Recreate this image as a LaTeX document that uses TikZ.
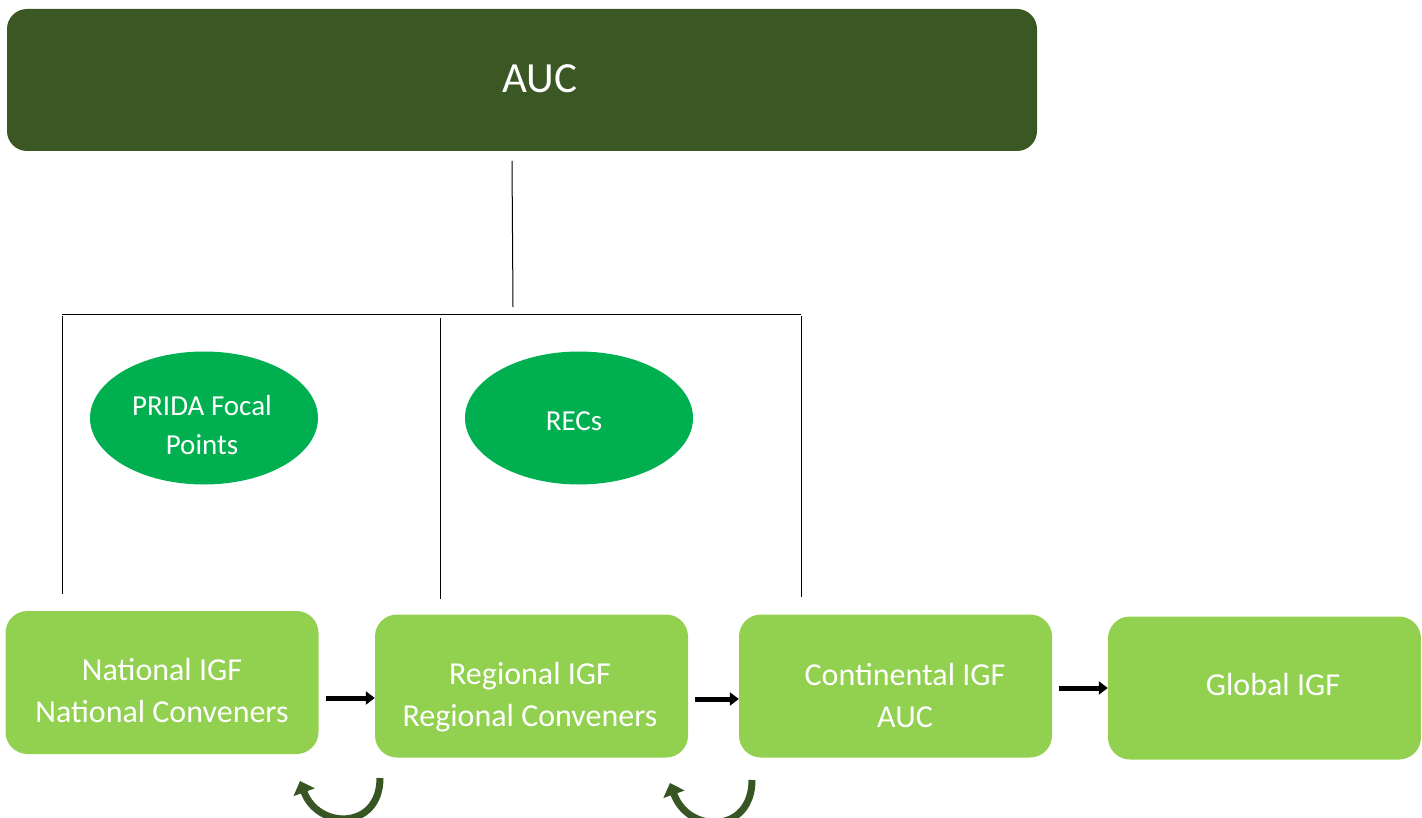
\documentclass[tikz,border=0pt]{standalone}
\usepackage{fontspec}
\setmainfont{Carlito}
\usetikzlibrary{shapes.geometric,arrows.meta}
\definecolor{dkgreen}{HTML}{3B5724}
\definecolor{ellgreen}{HTML}{00B050}
\definecolor{boxgreen}{HTML}{92D050}
\definecolor{arrgreen}{HTML}{375623}
\tikzset{
  topbox/.style={draw=none, fill=dkgreen, rounded corners=20pt, minimum width=1030pt, minimum height=142pt, text=white, font=\fontsize{43}{50}\selectfont, inner sep=0pt},
  ellnode/.style={ellipse, draw=none, fill=ellgreen, minimum width=228pt, minimum height=133pt, text=white, align=center, font=\fontsize{29}{39}\selectfont, inner sep=0pt},
  igfbox/.style={draw=none, fill=boxgreen, rounded corners=22pt, minimum width=313pt, minimum height=143pt, inner sep=0pt},
  igftext/.style={text=white, align=center, font=\fontsize{32}{42}\selectfont, inner sep=0pt},
  conn/.style={line width=1pt, black},
  flow/.style={line width=5pt, black, -{Triangle[length=9pt,width=13pt]}},
  loop/.style={line width=7pt, arrgreen, -{Triangle[length=12pt,width=22pt]}},
}
\begin{document}
\begin{tikzpicture}[x=1pt,y=-1pt]
\useasboundingbox (0,0) rectangle (1422,818);
\clip (0,0) rectangle (1422,818);
% top box
\node[topbox] (auc) at (522,80) {};
\node[text=white, font=\fontsize{43}{50}\selectfont, inner sep=0pt] (auct) at (540,79) {AUC};
% connector lines
\coordinate (a1) at (512,161);
\coordinate (a2) at (513,307);
\draw[conn] (a1) -- (a2);
\coordinate (bl) at (62,315);
\coordinate (br) at (801,315);
\draw[conn] (bl) -- (br);
\coordinate (l1) at (62,316);
\coordinate (l1e) at (62,594);
\coordinate (l2) at (440,318);
\coordinate (l2e) at (440,599);
\coordinate (l3) at (801,316);
\coordinate (l3e) at (801,597);
\draw[conn] (l1) -- (l1e);
\draw[conn] (l2) -- (l2e);
\draw[conn] (l3) -- (l3e);
% ellipses
\node[ellnode] (prida) at (204,418) {};
\node[text=white, align=center, font=\fontsize{29}{39}\selectfont, inner sep=0pt] (pridat) at (202,425) {PRIDA Focal\\Points};
\node[ellnode] (recs) at (579,418) {};
\node[text=white, font=\fontsize{29}{39}\selectfont, inner sep=0pt] (recst) at (574,421) {RECs};
% boxes
\node[igfbox] (nat) at (162,682.5) {};
\node[igftext] (natt) at (162,691) {National IGF\\National Conveners};
\node[igfbox] (reg) at (531.5,686) {};
\node[igftext] (regt) at (530,697) {Regional IGF\\Regional Conveners};
\node[igfbox] (con) at (895.5,686) {};
\node[igftext] (cont) at (905,696) {Continental IGF\\AUC};
\node[igfbox] (glo) at (1264.5,688) {};
\node[igftext] (glot) at (1273,685) {Global IGF};
% flow arrows
\draw[flow] (nat.east |- 0,698) ++(7,0) coordinate (f1s) -- (reg.west |- 0,698) coordinate (f1e);
\draw[flow] (reg.east |- 0,699) ++(7,0) coordinate (f2s) -- (con.west |- 0,699) coordinate (f2e);
\draw[flow] (con.east |- 0,688) ++(7,0) coordinate (f3s) -- (glo.west |- 0,688) coordinate (f3e);
% loop arrows
\coordinate (c1s) at (380,778);
\coordinate (c1e) at (300,781);
\draw[loop] (c1s) .. controls (380,830) and (318,830) .. (c1e);
\coordinate (c2s) at (752,780);
\coordinate (c2e) at (670,783);
\draw[loop] (c2s) .. controls (752,834) and (688,834) .. (c2e);
\end{tikzpicture}
\end{document}
